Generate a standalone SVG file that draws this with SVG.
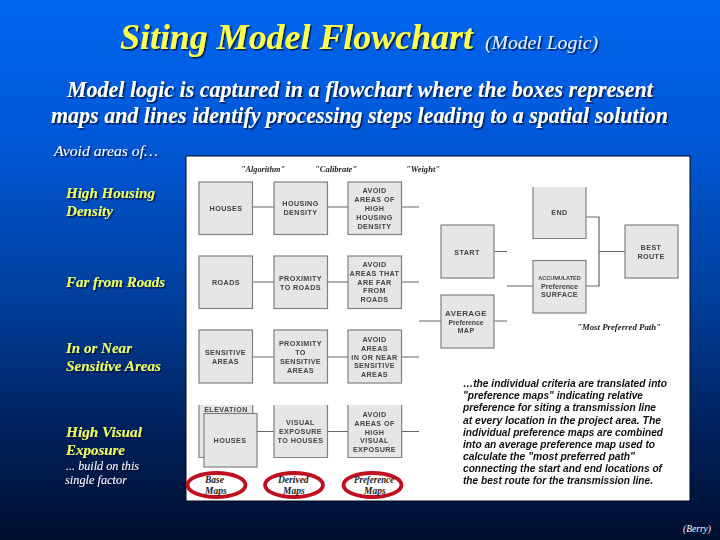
<svg xmlns="http://www.w3.org/2000/svg" width="720" height="540" viewBox="0 0 720 540">
<style>
text{font-family:"Liberation Serif","Times New Roman",serif;font-style:italic}
.t{fill:#ffff4d;font-weight:bold;font-size:35px}
.s{fill:#fff;font-weight:bold;font-size:23px}
.y{fill:#eeff66;font-weight:bold;font-size:15px}
.w{fill:#fff;font-size:14px}
.q{fill:#222;font-size:8.500px;font-weight:bold}
.c{fill:#222;font-size:9.500px;font-weight:bold}
.box{fill:#e6e6e6;stroke:#808080;stroke-width:1.200}
.l{font-family:"Liberation Sans",Arial,sans-serif;font-style:normal;font-size:7.200px;font-weight:bold;fill:#444;text-anchor:middle;letter-spacing:.4px}
.b{font-family:"Liberation Sans",Arial,sans-serif;font-style:italic;font-weight:bold;font-size:10.400px;fill:#111}
.con{fill:none;stroke:#666;stroke-width:1.200}
.oval{fill:#fff;stroke:#c01020;stroke-width:3.800}
</style>
<defs>
<linearGradient id="bg" x1="0" y1="0" x2="0" y2="1">
<stop offset="0" stop-color="#0066ee"/><stop offset=".25" stop-color="#0058d8"/><stop offset=".55" stop-color="#003f9c"/><stop offset=".8" stop-color="#00205a"/><stop offset="1" stop-color="#000f2e"/>
</linearGradient>
<filter id="sh" x="-10%" y="-30%" width="120%" height="170%"><feDropShadow dx="1.500" dy="1.500" stdDeviation=".7" flood-color="#001133" flood-opacity=".85"/></filter>
<filter id="soft"><feGaussianBlur stdDeviation=".3"/></filter>
</defs>
<rect width="720" height="540" fill="url(#bg)"/>
<g filter="url(#sh)">
<text class="t" x="120" y="49" textLength="353" lengthAdjust="spacingAndGlyphs">Siting Model Flowchart</text>
<text x="485" y="49" font-size="19" fill="#e8f0ff" textLength="113" lengthAdjust="spacingAndGlyphs">(Model Logic)</text>
<text class="s" x="67" y="97" textLength="586" lengthAdjust="spacingAndGlyphs">Model logic is captured in a flowchart where the boxes represent</text>
<text class="s" x="51" y="123" textLength="617" lengthAdjust="spacingAndGlyphs">maps and lines identify processing steps leading to a spatial solution</text>
<text class="w" x="54" y="156" textLength="104" lengthAdjust="spacingAndGlyphs">Avoid areas of…</text>
<text class="y" x="66" y="198" textLength="89" lengthAdjust="spacingAndGlyphs">High Housing</text>
<text class="y" x="66" y="216" textLength="47" lengthAdjust="spacingAndGlyphs">Density</text>
<text class="y" x="66" y="287" textLength="99" lengthAdjust="spacingAndGlyphs">Far from Roads</text>
<text class="y" x="66" y="353" textLength="66" lengthAdjust="spacingAndGlyphs">In or Near</text>
<text class="y" x="66" y="371" textLength="95" lengthAdjust="spacingAndGlyphs">Sensitive Areas</text>
<text class="y" x="66" y="437" textLength="76" lengthAdjust="spacingAndGlyphs">High Visual</text>
<text class="y" x="66" y="455" textLength="59" lengthAdjust="spacingAndGlyphs">Exposure</text>
<text class="w" x="66" y="470" font-size="12" style="font-size:12px" textLength="73" lengthAdjust="spacingAndGlyphs">... build on this</text>
<text class="w" x="65" y="484" style="font-size:12px" textLength="62" lengthAdjust="spacingAndGlyphs">single factor</text>
</g>
<rect x="186" y="156" width="504" height="345" fill="#fff" stroke="#000814" stroke-width="1"/>
<g filter="url(#soft)">
<text class="q" x="241" y="172" textLength="44" lengthAdjust="spacingAndGlyphs">"Algorithm"</text>
<text class="q" x="315" y="172" textLength="42" lengthAdjust="spacingAndGlyphs">"Calibrate"</text>
<text class="q" x="406" y="172" textLength="34" lengthAdjust="spacingAndGlyphs">"Weight"</text>
<text class="q" x="577" y="330" textLength="84" lengthAdjust="spacingAndGlyphs">"Most Preferred Path"</text>
<g id="connectors" class="con">
<path d="M252.700 207H274M327 207H348M401.700 207H419"/>
<path d="M252.700 282H274M327 282H348M401.700 282H419"/>
<path d="M252.700 357H274M327 357H348M401.700 357H419"/>
<path d="M257 431.500H274M327 431.500H348M401.700 431.500H419"/>
<path d="M419 321H441M494 321H507M494 251.500H507M507 286H533"/>
<path d="M586 217H599V286H586M599 251.500H625"/>
</g>
<g id="n-houses"><rect class="box" x="199" y="182" width="53.500" height="52.500"/><text class="l" x="226" y="211">HOUSES</text></g>
<g id="n-housing-density"><rect class="box" x="274" y="182" width="53.500" height="52.500"/><text class="l" x="300.500" y="206">HOUSING</text><text class="l" x="300.500" y="215">DENSITY</text></g>
<g id="n-avoid-housing"><rect class="box" x="348" y="182" width="53.500" height="52.500"/><text class="l" x="374.500" y="193">AVOID</text><text class="l" x="374.500" y="202">AREAS OF</text><text class="l" x="374.500" y="211">HIGH</text><text class="l" x="374.500" y="220">HOUSING</text><text class="l" x="374.500" y="229">DENSITY</text></g>
<g id="n-roads"><rect class="box" x="199" y="256" width="53.500" height="52.500"/><text class="l" x="226" y="285">ROADS</text></g>
<g id="n-prox-roads"><rect class="box" x="274" y="256" width="53.500" height="52.500"/><text class="l" x="300.500" y="281">PROXIMITY</text><text class="l" x="300.500" y="290">TO ROADS</text></g>
<g id="n-avoid-roads"><rect class="box" x="348" y="256" width="53.500" height="52.500"/><text class="l" x="374.500" y="267">AVOID</text><text class="l" x="374.500" y="276">AREAS THAT</text><text class="l" x="374.500" y="285">ARE FAR</text><text class="l" x="374.500" y="293">FROM</text><text class="l" x="374.500" y="302">ROADS</text></g>
<g id="n-sensitive"><rect class="box" x="199" y="330" width="53.500" height="53"/><text class="l" x="225.500" y="355">SENSITIVE</text><text class="l" x="225.500" y="364">AREAS</text></g>
<g id="n-prox-sensitive"><rect class="box" x="274" y="330" width="53.500" height="53"/><text class="l" x="300.500" y="346">PROXIMITY</text><text class="l" x="300.500" y="355">TO</text><text class="l" x="300.500" y="364">SENSITIVE</text><text class="l" x="300.500" y="373">AREAS</text></g>
<g id="n-avoid-sensitive"><rect class="box" x="348" y="330" width="53.500" height="53"/><text class="l" x="374.500" y="342">AVOID</text><text class="l" x="374.500" y="351">AREAS</text><text class="l" x="374.500" y="360">IN OR NEAR</text><text class="l" x="374.500" y="368">SENSITIVE</text><text class="l" x="374.500" y="377">AREAS</text></g>
<g id="n-elevation"><path d="M199 405V457.500H252.700V405" class="box"/><text class="l" x="226" y="412">ELEVATION</text></g>
<g id="n-houses-2"><rect class="box" x="204" y="413.500" width="53" height="53.500"/><text class="l" x="230" y="443">HOUSES</text></g>
<g id="n-visual"><path d="M274 405V457.500H327.500V405" class="box"/><text class="l" x="300.500" y="425">VISUAL</text><text class="l" x="300.500" y="434">EXPOSURE</text><text class="l" x="300.500" y="443">TO HOUSES</text></g>
<g id="n-avoid-visual"><path d="M348 405V457.500H401.700V405" class="box"/><text class="l" x="374.500" y="417">AVOID</text><text class="l" x="374.500" y="426">AREAS OF</text><text class="l" x="374.500" y="435">HIGH</text><text class="l" x="374.500" y="443">VISUAL</text><text class="l" x="374.500" y="452">EXPOSURE</text></g>
<g id="n-start"><rect class="box" x="441" y="225" width="53" height="53"/><text class="l" x="467" y="255">START</text></g>
<g id="n-average"><rect class="box" x="441" y="295" width="53" height="53"/><text class="l" x="466" y="316" style="font-size:8px">AVERAGE</text><text class="l" x="466" y="324.500" style="font-size:6.800px;letter-spacing:0">Preference</text><text class="l" x="466" y="333">MAP</text></g>
<g id="n-end"><path d="M533 187V238.500H586V187" class="box"/><text class="l" x="559.500" y="215">END</text></g>
<g id="n-accumulated"><rect class="box" x="533" y="260.500" width="53" height="52.500"/><text class="l" x="559.500" y="280" style="font-size:5.500px;letter-spacing:0">ACCUMULATED</text><text class="l" x="559.500" y="289" style="letter-spacing:0">Preference</text><text class="l" x="559.500" y="297">SURFACE</text></g>
<g id="n-best"><rect class="box" x="625" y="225" width="53" height="53"/><text class="l" x="651" y="250">BEST</text><text class="l" x="651" y="259">ROUTE</text></g>
</g>
<g id="n-base-maps"><ellipse class="oval" cx="216.500" cy="485" rx="29" ry="12"/><text class="c" x="205" y="483">Base</text><text class="c" x="205" y="494">Maps</text></g>
<g id="n-derived-maps"><ellipse class="oval" cx="294" cy="485" rx="29" ry="12"/><text class="c" x="278" y="483">Derived</text><text class="c" x="283" y="494">Maps</text></g>
<g id="n-preference-maps"><ellipse class="oval" cx="372.500" cy="485" rx="29" ry="12"/><text class="c" x="354" y="483" textLength="40" lengthAdjust="spacingAndGlyphs">Preference</text><text class="c" x="364" y="494">Maps</text></g>
<g filter="url(#soft)">
<text class="b" x="463" y="386.500" textLength="204" lengthAdjust="spacingAndGlyphs">…the individual criteria are translated into</text>
<text class="b" x="463" y="398.500" textLength="180" lengthAdjust="spacingAndGlyphs">"preference maps" indicating relative</text>
<text class="b" x="463" y="411" textLength="193" lengthAdjust="spacingAndGlyphs">preference for siting a transmission line</text>
<text class="b" x="463" y="423.500" textLength="198" lengthAdjust="spacingAndGlyphs">at every location in the project area.  The</text>
<text class="b" x="463" y="435.500" textLength="200" lengthAdjust="spacingAndGlyphs">individual preference maps are combined</text>
<text class="b" x="463" y="447.500" textLength="192" lengthAdjust="spacingAndGlyphs">into an average preference map used to</text>
<text class="b" x="463" y="460" textLength="172" lengthAdjust="spacingAndGlyphs">calculate the "most preferred path"</text>
<text class="b" x="463" y="472" textLength="199" lengthAdjust="spacingAndGlyphs">connecting the start and end locations of</text>
<text class="b" x="463" y="484" textLength="190" lengthAdjust="spacingAndGlyphs">the best route for the transmission line.</text>
</g>
<text x="683" y="532" font-size="10" fill="#fff" textLength="28" lengthAdjust="spacingAndGlyphs">(Berry)</text>
</svg>
